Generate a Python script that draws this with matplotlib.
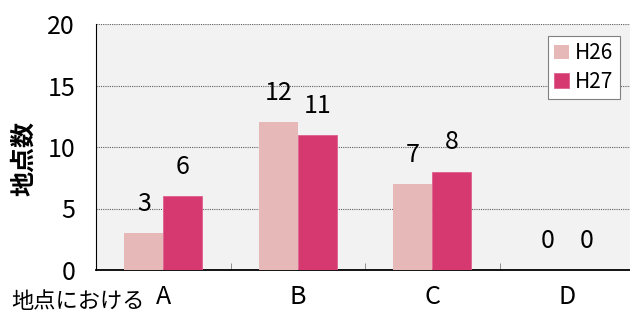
import matplotlib
matplotlib.use("Agg")
import numpy as np
import matplotlib.pyplot as plt
from matplotlib.ticker import FixedLocator

plt.rcParams['font.family'] = ['Noto Sans CJK JP', 'DejaVu Sans']

categories = ["A", "B", "C", "D"]
series_names = ["H26", "H27"]
h26 = [3, 12, 7, 0]
h27 = [6, 11, 8, 0]
yticks = [0, 5, 10, 15, 20]
ylabel = "地点数"
xprefix = "地点における"

c26 = "#E6B8B7"
c27 = "#D63870"

fig = plt.figure(figsize=(6.3, 3.11), dpi=100)
ax = fig.add_axes([96 / 630, 41 / 311, 538 / 630, 246 / 311])
ax.set_facecolor("#F2F2F2")

x = np.arange(len(categories))
w = 0.29
b1 = ax.bar(x - w / 2, h26, w, color=c26, label=series_names[0], zorder=3)
b2 = ax.bar(x + w / 2, h27, w, color=c27, edgecolor="#E0608F", linewidth=0.6,
            label=series_names[1], zorder=3)

for bars, vals in ((b1, h26), (b2, h27)):
    for r, v in zip(bars, vals):
        ax.annotate(str(v), (r.get_x() + r.get_width() / 2, v),
                    xytext=(0, 21), textcoords="offset points",
                    ha="center", va="center", fontsize=18)

ax.set_xlim(-0.5, len(categories) - 0.5)
ax.set_ylim(0, 20)
ax.set_yticks(yticks)
ax.tick_params(axis="y", length=0, pad=15, labelsize=18)
ax.set_xticks(x)
ax.set_xticklabels(categories)
ax.tick_params(axis="x", which="major", length=0, pad=10, labelsize=18)
ax.xaxis.set_minor_locator(FixedLocator(np.arange(-0.5, len(categories), 1.0)))
ax.tick_params(axis="x", which="minor", direction="in", length=5, color="#808080")

ax.grid(axis="y", color="#606060", linestyle=(0, (1, 1)), linewidth=0.8, zorder=0)
for s in ("top", "right"):
    ax.spines[s].set_visible(False)
ax.spines["left"].set_color("black")
ax.spines["bottom"].set_color("black")
ax.spines["bottom"].set_linewidth(1.3)

fig.text(24 / 630, 1 - 158 / 311, ylabel, rotation=90, ha="center", va="center",
         fontsize=18, fontweight="bold")
fig.text(145 / 630, 1 - 301 / 311, xprefix, ha="right", va="center", fontsize=16)

leg = ax.legend(loc="upper left", bbox_to_anchor=(548 / 630, 1 - 36 / 311),
                bbox_transform=fig.transFigure, borderaxespad=0, fancybox=False,
                framealpha=1, edgecolor="#808080", fontsize=15, handlelength=0.7,
                handleheight=0.7, handletextpad=0.3, borderpad=0.3, labelspacing=0.3)
leg.get_frame().set_linewidth(0.8)

fig.savefig("out.png", dpi=100)
